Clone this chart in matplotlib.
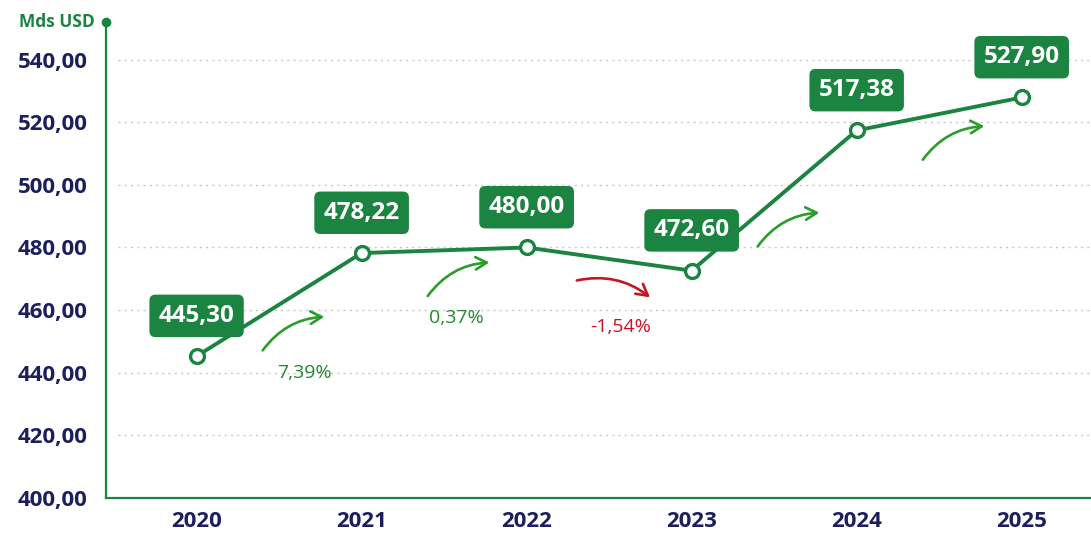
import matplotlib.pyplot as plt
from matplotlib.transforms import offset_copy

# Data
years = ['2020', '2021', '2022', '2023', '2024', '2025']
values = [445.30, 478.22, 480.00, 472.60, 517.38, 527.90]
yticks = [400, 420, 440, 460, 480, 500, 520, 540]
show_pct = [True, True, True, False, False]

GREEN = '#1a8440'
NAVY = '#1b1f5e'
RED = '#c8141e'

plt.rcParams['font.family'] = ['Open Sans', 'DejaVu Sans']

def fmt(v):
    return f'{v:.2f}'.replace('.', ',')

fig = plt.figure(figsize=(10.91, 5.37), dpi=100)
ax = fig.add_axes([0.097, 0.0726, 0.903, 0.8864])

x = list(range(len(years)))
ax.plot(x, values, color=GREEN, lw=2.8, zorder=3, solid_capstyle='round')
ax.plot(x, values, 'o', ms=10, mfc='white', mec=GREEN, mew=2.4, zorder=4)

ax.set_xlim(-0.55, 5.42)
ax.set_ylim(400, 552)
ax.set_yticks(yticks)
ax.set_yticklabels([fmt(t) for t in yticks])
ax.set_xticks(x)
ax.set_xticklabels(years)
ax.tick_params(axis='y', length=0, pad=13, labelsize=16, labelcolor=NAVY)
ax.tick_params(axis='x', length=0, pad=9, labelsize=16, labelcolor=NAVY)
for lab in ax.get_xticklabels() + ax.get_yticklabels():
    lab.set_fontweight('bold')

for t in yticks[1:]:
    ax.axhline(t, xmin=0.012, color='#c8c8c8', lw=1, ls=(0, (1.5, 3)), zorder=1)

for s in ['top', 'right']:
    ax.spines[s].set_visible(False)
for s in ['left', 'bottom']:
    ax.spines[s].set_color(GREEN)
    ax.spines[s].set_linewidth(1.6)

# axis unit + dot at top of spine
ax.plot([-0.55], [552], 'o', color=GREEN, ms=6, clip_on=False, zorder=5)
ax.text(-0.62, 552, 'Mds USD', color=GREEN, fontsize=12.5, fontweight='bold',
        ha='right', va='center')

# value boxes above each point
for xi, v in zip(x, values):
    ax.annotate(fmt(v), (xi, v), xytext=(0, 29), textcoords='offset points',
                ha='center', va='center', color='white', fontsize=17.5,
                fontweight='bold', zorder=6,
                bbox=dict(boxstyle='round,pad=0.38,rounding_size=0.25',
                          fc=GREEN, ec='none'))

# growth arrows between points
for i in range(len(values) - 1):
    pct = (values[i + 1] / values[i] - 1) * 100
    mx = i + 0.5
    my = (values[i] + values[i + 1]) / 2
    if pct >= 0:
        col = '#2a9d2a'
        p0 = offset_copy(ax.transData, fig, x=-18, y=-48, units='dots')
        p1 = offset_copy(ax.transData, fig, x=48, y=-12, units='dots')
    else:
        col = RED
        p0 = offset_copy(ax.transData, fig, x=-35, y=-22, units='dots')
        p1 = offset_copy(ax.transData, fig, x=43, y=-40, units='dots')
    ax.annotate('', xy=(mx, my), xycoords=p1, xytext=(mx, my), textcoords=p0,
                arrowprops=dict(arrowstyle='->,head_length=0.8,head_width=0.45',
                                color=col, lw=1.9,
                                connectionstyle='arc3,rad=-0.25'), zorder=5)
    if show_pct[i]:
        tr = offset_copy(ax.transData, fig, x=25 if i == 0 else 12, y=-68, units='dots')
        ax.text(mx, my, f'{pct:.2f}%'.replace('.', ','), transform=tr,
                color=col if pct < 0 else '#23892f', fontsize=14,
                ha='center', va='center')

fig.savefig('out.png', dpi=100, facecolor='white')
